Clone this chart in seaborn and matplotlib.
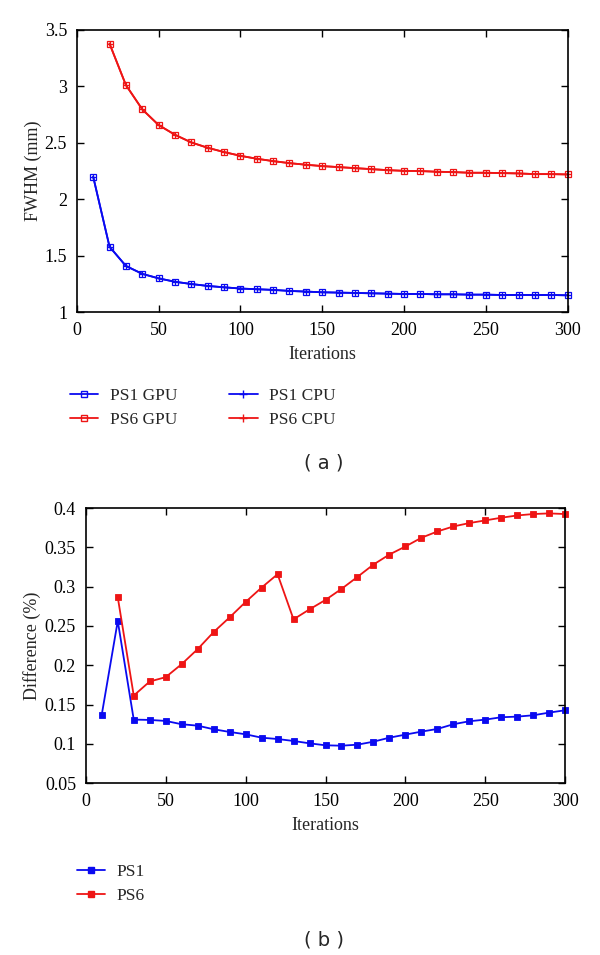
import numpy as np
import pandas as pd
import seaborn as sns
import matplotlib
matplotlib.use("Agg")
import matplotlib.pyplot as plt
from matplotlib.lines import Line2D

iters_a_ps1 = list(range(10, 301, 10))
iters_a_ps6 = list(range(20, 301, 10))
fwhm_ps1 = [2.20, 1.58, 1.41, 1.34, 1.30, 1.27, 1.25, 1.233, 1.221, 1.210,
            1.204, 1.198, 1.189, 1.183, 1.177, 1.174, 1.171, 1.168, 1.165, 1.162,
            1.162, 1.159, 1.159, 1.156, 1.156, 1.153, 1.153, 1.153, 1.153, 1.150]
fwhm_ps6 = [3.376, 3.01, 2.795, 2.656, 2.570, 2.502, 2.455, 2.417, 2.384, 2.358,
            2.337, 2.319, 2.305, 2.293, 2.284, 2.275, 2.266, 2.257, 2.251, 2.249,
            2.243, 2.240, 2.234, 2.234, 2.231, 2.228, 2.222, 2.222, 2.219]

iters_b_ps1 = list(range(10, 301, 10))
iters_b_ps6 = list(range(20, 301, 10))
diff_ps1 = [0.1372, 0.2563, 0.1308, 0.1304, 0.1291, 0.1249, 0.1231, 0.1185, 0.1151, 0.1121,
            0.1078, 0.1061, 0.1036, 0.1006, 0.0981, 0.0976, 0.0989, 0.1027, 0.1078, 0.1117,
            0.1155, 0.1189, 0.1249, 0.1287, 0.1308, 0.1338, 0.1346, 0.1363, 0.1397, 0.1427]
diff_ps6 = [0.2865, 0.1614, 0.1793, 0.1848, 0.2014, 0.2205, 0.2422, 0.2609, 0.2805, 0.2988,
            0.3158, 0.2584, 0.2711, 0.2831, 0.2971, 0.3124, 0.3281, 0.3409, 0.3511, 0.3622,
            0.3702, 0.3766, 0.3809, 0.3843, 0.3877, 0.3906, 0.3924, 0.3932, 0.3924]

x_ticks = [0, 50, 100, 150, 200, 250, 300]
ya_ticks = [1, 1.5, 2, 2.5, 3, 3.5]
ya_labels = ["1", "1.5", "2", "2.5", "3", "3.5"]
yb_ticks = [0.05, 0.1, 0.15, 0.2, 0.25, 0.3, 0.35, 0.4]
yb_labels = ["0.05", "0.1", "0.15", "0.2", "0.25", "0.3", "0.35", "0.4"]

sns.set_theme(style="ticks")
plt.rcParams['font.family'] = ['Liberation Serif', 'DejaVu Serif']

BLUE = "#0a0af0"
RED = "#ee1515"
FS = 13
LFS = 12.5

fig = plt.figure(figsize=(6, 9.55), dpi=100)
ax1 = fig.add_axes([0.128, 0.673, 0.818, 0.296])
ax2 = fig.add_axes([0.143, 0.180, 0.799, 0.288])

def style_axes(ax):
    for s in ax.spines.values():
        s.set_visible(True)
        s.set_color("black")
        s.set_linewidth(1.2)
    ax.tick_params(direction="in", top=True, right=True, length=5, width=1,
                   labelsize=FS, colors="black", pad=7)

# Panel (a)
df_a1 = pd.DataFrame({"Iterations": iters_a_ps1, "v": fwhm_ps1})
df_a6 = pd.DataFrame({"Iterations": iters_a_ps6, "v": fwhm_ps6})
for df, c in [(df_a1, BLUE), (df_a6, RED)]:
    sns.lineplot(data=df, x="Iterations", y="v", ax=ax1, color=c, lw=1.3,
                 marker="s", markersize=4.3, markerfacecolor="none",
                 markeredgecolor=c, markeredgewidth=0.9, clip_on=False)
    sns.lineplot(data=df, x="Iterations", y="v", ax=ax1, color=c, lw=1.3,
                 marker="+", markersize=4.3, markeredgecolor=c, markeredgewidth=0.9,
                 clip_on=False)
ax1.set_xlim(0, 300)
ax1.set_ylim(1, 3.5)
ax1.set_xticks(x_ticks)
ax1.set_yticks(ya_ticks)
ax1.set_yticklabels(ya_labels)
ax1.set_xlabel("Iterations", fontsize=FS, labelpad=5)
ax1.set_ylabel("FWHM (mm)", fontsize=FS, labelpad=2)
style_axes(ax1)

# Panel (b)
df_b1 = pd.DataFrame({"Iterations": iters_b_ps1, "v": diff_ps1})
df_b6 = pd.DataFrame({"Iterations": iters_b_ps6, "v": diff_ps6})
for df, c in [(df_b1, BLUE), (df_b6, RED)]:
    sns.lineplot(data=df, x="Iterations", y="v", ax=ax2, color=c, lw=1.3,
                 marker="s", markersize=4.6, markerfacecolor=c,
                 markeredgecolor=c, markeredgewidth=0.6, clip_on=False)
ax2.set_xlim(0, 300)
ax2.set_ylim(0.05, 0.4)
ax2.set_xticks(x_ticks)
ax2.set_yticks(yb_ticks)
ax2.set_yticklabels(yb_labels)
ax2.set_xlabel("Iterations", fontsize=FS, labelpad=5)
ax2.set_ylabel("Difference (%)", fontsize=FS, labelpad=3)
style_axes(ax2)

# Legends
h_a = [
    Line2D([], [], color=BLUE, lw=1.3, marker="s", markersize=4, markerfacecolor="none"),
    Line2D([], [], color=RED, lw=1.3, marker="s", markersize=4, markerfacecolor="none"),
    Line2D([], [], color=BLUE, lw=1.3, marker="+", markersize=6),
    Line2D([], [], color=RED, lw=1.3, marker="+", markersize=6),
]
fig.legend(h_a, ["PS1 GPU", "PS6 GPU", "PS1 CPU", "PS6 CPU"], ncol=2,
           loc="upper left", bbox_to_anchor=(0.09, 0.6105), frameon=False,
           fontsize=LFS, handlelength=1.65, columnspacing=3.0, labelspacing=0.45,
           handletextpad=0.65)
h_b = [
    Line2D([], [], color=BLUE, lw=1.3, marker="s", markersize=5),
    Line2D([], [], color=RED, lw=1.3, marker="s", markersize=5),
]
fig.legend(h_b, ["PS1", "PS6"], loc="upper left", bbox_to_anchor=(0.102, 0.112),
           frameon=False, fontsize=LFS, handlelength=1.65, labelspacing=0.45,
           handletextpad=0.65)

fig.text(0.54, 0.515, "( a )", ha="center", va="center", fontsize=FS + 1,
         family=["DejaVu Sans"])
fig.text(0.54, 0.016, "( b )", ha="center", va="center", fontsize=FS + 1,
         family=["DejaVu Sans"])

fig.savefig("out.png", dpi=100)
